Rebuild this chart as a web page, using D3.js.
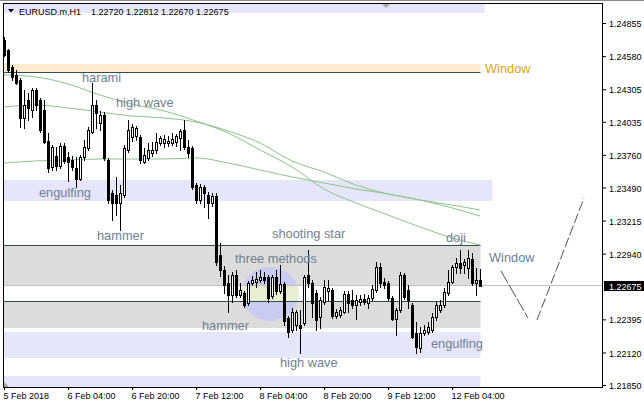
<!DOCTYPE html>
<html><head><meta charset="utf-8">
<script src="https://cdn.jsdelivr.net/npm/d3@7"></script>
<style>html,body{margin:0;padding:0;background:#fff;}svg{display:block;}</style>
</head><body><svg id="c" width="644" height="408"></svg>
<script>
// ---------- DATA ----------
const symbolTitle = "EURUSD.m,H1";
const lastOHLC = [1.22720, 1.22812, 1.22670, 1.22675];
const open = [1.24714,1.24631,1.24490,1.24423,1.24382,1.24067,1.24216,1.24133,1.24299,1.24216,
1.24133,1.23876,1.23660,1.23751,1.23668,1.23834,1.23743,1.23718,1.23652,1.23560,
1.23743,1.23818,1.23950,1.24174,1.24025,1.24091,1.23718,1.23444,1.23427,1.23361,
1.23427,1.23801,1.23909,1.23917,1.23909,1.23701,1.23735,1.23776,1.23801,1.23859,
1.23859,1.23859,1.23859,1.23867,1.23900,1.23967,1.23826,1.23818,1.23510,1.23386,
1.23494,1.23427,1.23361,1.23419,1.22929,1.22805,1.22697,1.22597,1.22763,1.22597,
1.22614,1.22531,1.22697,1.22705,1.22722,1.22747,1.22747,1.22589,1.22747,1.22631,
1.22689,1.22407,1.22307,1.22348,1.22348,1.22365,1.22763,1.22697,1.22614,1.22415,
1.22539,1.22631,1.22639,1.22423,1.22431,1.22456,1.22606,1.22556,1.22514,1.22539,
1.22564,1.22531,1.22573,1.22639,1.22830,1.22705,1.22697,1.22573,1.22398,1.22473,
1.22763,1.22639,1.22514,1.22282,1.22158,1.22282,1.22290,1.22307,1.22415,1.22473,
1.22514,1.22614,1.22705,1.22830,1.22863,1.22846,1.22821,1.22896,1.22697,1.22720];
const high = [1.24739,1.24639,1.24506,1.24465,1.24399,1.24299,1.24274,1.24316,1.24316,1.24233,
1.24216,1.23942,1.23842,1.23826,1.23859,1.23859,1.23784,1.23751,1.23743,1.23759,
1.23884,1.23992,1.24357,1.24216,1.24125,1.24116,1.23735,1.23469,1.23577,1.23510,
1.23842,1.24050,1.24017,1.24000,1.23925,1.23818,1.23859,1.23867,1.23942,1.23917,
1.23925,1.23917,1.23942,1.23934,1.23975,1.24050,1.23884,1.23834,1.23527,1.23519,
1.23510,1.23452,1.23444,1.23444,1.23029,1.22838,1.22763,1.22788,1.22805,1.22697,
1.22631,1.22714,1.22755,1.22788,1.22805,1.22788,1.22763,1.22763,1.22805,1.22846,
1.22705,1.22423,1.22490,1.22473,1.22473,1.22763,1.22971,1.22722,1.22639,1.22581,
1.22722,1.22722,1.22656,1.22481,1.22498,1.22631,1.22631,1.22639,1.22597,1.22597,
1.22606,1.22597,1.22680,1.22871,1.22863,1.22738,1.22714,1.22589,1.22490,1.22788,
1.22780,1.22680,1.22531,1.22373,1.22332,1.22348,1.22373,1.22448,1.22539,1.22556,
1.22656,1.22805,1.22846,1.22904,1.22971,1.22896,1.22971,1.22946,1.22821,1.22812];
const low = [1.24581,1.24448,1.24382,1.24349,1.23992,1.23984,1.24050,1.24075,1.24133,1.23950,
1.23859,1.23618,1.23635,1.23635,1.23652,1.23693,1.23544,1.23635,1.23494,1.23552,
1.23718,1.23801,1.23942,1.23984,1.23967,1.23718,1.23361,1.23220,1.23261,1.23137,
1.23411,1.23784,1.23876,1.23884,1.23693,1.23693,1.23718,1.23751,1.23776,1.23842,
1.23826,1.23834,1.23842,1.23834,1.23801,1.23809,1.23743,1.23477,1.23361,1.23361,
1.23328,1.23237,1.23336,1.22846,1.22755,1.22614,1.22456,1.22539,1.22581,1.22581,
1.22498,1.22514,1.22680,1.22664,1.22705,1.22697,1.22539,1.22573,1.22606,1.22614,
1.22348,1.22249,1.22290,1.22307,1.22116,1.22348,1.22664,1.22415,1.22307,1.22324,
1.22523,1.22556,1.22407,1.22407,1.22415,1.22448,1.22456,1.22490,1.22398,1.22514,
1.22523,1.22490,1.22556,1.22622,1.22664,1.22656,1.22556,1.22390,1.22265,1.22456,
1.22564,1.22490,1.22241,1.22116,1.22124,1.22265,1.22274,1.22290,1.22390,1.22456,
1.22498,1.22597,1.22697,1.22780,1.22780,1.22780,1.22738,1.22680,1.22597,1.22670];
const close = [1.24589,1.24465,1.24407,1.24357,1.24067,1.24174,1.24150,1.24299,1.24174,1.23967,
1.23867,1.23652,1.23826,1.23668,1.23834,1.23710,1.23701,1.23660,1.23560,1.23743,
1.23826,1.23967,1.24174,1.24108,1.24091,1.23735,1.23386,1.23361,1.23361,1.23444,
1.23818,1.23967,1.23992,1.23984,1.23718,1.23759,1.23801,1.23801,1.23867,1.23900,
1.23892,1.23876,1.23892,1.23917,1.23959,1.23826,1.23776,1.23494,1.23386,1.23494,
1.23444,1.23361,1.23419,1.22871,1.22805,1.22680,1.22597,1.22763,1.22597,1.22639,
1.22514,1.22697,1.22722,1.22730,1.22747,1.22722,1.22573,1.22747,1.22631,1.22689,
1.22382,1.22290,1.22456,1.22456,1.22324,1.22747,1.22697,1.22531,1.22390,1.22556,
1.22664,1.22656,1.22423,1.22456,1.22473,1.22606,1.22531,1.22514,1.22556,1.22564,
1.22539,1.22573,1.22647,1.22830,1.22697,1.22680,1.22573,1.22398,1.22473,1.22763,
1.22581,1.22556,1.22249,1.22166,1.22282,1.22307,1.22332,1.22415,1.22514,1.22514,
1.22622,1.22705,1.22830,1.22863,1.22821,1.22871,1.22904,1.22697,1.22722,1.22675];

// moving averages (sampled at bar indices)
const maIdx  = [0,8,16,24,32,40,48,56,64,72,80,88,96,104,112,119];
const maFast = [1.24424,1.24407,1.24349,1.24257,1.24183,1.24125,1.24042,1.23942,1.23801,1.23660,1.23477,1.23361,1.23261,1.23162,1.23071,1.23012];
const maMid  = [1.24158,1.24174,1.24150,1.24116,1.24083,1.24067,1.24033,1.23959,1.23859,1.23710,1.23618,1.23510,1.23436,1.23386,1.23320,1.23253];
const maSlow = [1.23693,1.23710,1.23718,1.23726,1.23726,1.23726,1.23735,1.23693,1.23635,1.23577,1.23527,1.23477,1.23436,1.23386,1.23344,1.23303];

// axis ticks
const yTicks = [1.24855,1.24580,1.24305,1.24035,1.23760,1.23490,1.23215,1.22940,1.22395,1.22120,1.21850];
const xTickIdx = [0,16,32,48,64,80,96,112];
const xTickLabels = ["5 Feb 2018","6 Feb 04:00","6 Feb 20:00","7 Feb 12:00","8 Feb 04:00","8 Feb 20:00","9 Feb 12:00","12 Feb 04:00"];

// zones: price top / bottom, ending bar, kind
const zoneTop    = [1.25100,1.24515,1.23552,1.23012,1.22548,1.22290,1.21925];
const zoneBottom = [1.24938,1.24448,1.23380,1.22680,1.22324,1.22077,1.21700];
const zoneEnd    = [120,119,122,119,119,119,119];
const zoneKind   = ["lav","peach","lav","gray","gray","lav","lav"];
// horizontal lines
const hLines = [1.24448,1.23012,1.22548];
const hLineEnd = 119;
// ellipse
const ellipseC = [66.5, 1.22606]; const ellipseRBars = 7.1; const ellipseRPrice = 0.00224;
// projected "Window" path
const proj1 = [[124.25,1.22796],[131,1.22406]];
const proj2 = [[133.25,1.22390],[145,1.23402]];
// pattern labels: text, bar, price, kind
const labels = [
 ["harami",19.5,1.24366,"n"],["high wave",28,1.24154,"n"],["engulfing",8.75,1.23407,"n"],
 ["hammer",23.25,1.23050,"n"],["shooting star",67,1.23071,"n"],["three methods",57.75,1.22863,"n"],
 ["hammer",49.5,1.22307,"n"],["high wave",69,1.22000,"n"],["doji",110.5,1.23037,"n"],
 ["Window",121.25,1.22871,"n"],["engulfing",106.75,1.22153,"n"],["Window",120.25,1.24444,"g"]];

// ---------- DRAW ----------
const svg = d3.select('#c');
const FONT = "Liberation Sans, Arial, sans-serif";
const x = d3.scaleLinear().domain([0,119]).range([4,480]);
const y = d3.scaleLinear().domain([1.21850,1.24855]).range([385,23]);
const zoneColor = {lav:"#e6e6fa", peach:"#ffebcd", gray:"#dcdcdc"};

svg.append('rect').attr('width',644).attr('height',408).attr('fill','#fff');
svg.append('line').attr('x1',0).attr('x2',644).attr('y1',0.5).attr('y2',0.5).attr('stroke','#8a8a8a');

const defs = svg.append('defs');
defs.append('clipPath').attr('id','plot').append('rect').attr('x',3).attr('y',3).attr('width',600).attr('height',384);
defs.append('clipPath').attr('id','strip').append('rect').attr('x',0)
  .attr('y',Math.round(y(zoneBottom[3]))).attr('width',644)
  .attr('height',Math.round(y(hLines[2]))-Math.round(y(zoneBottom[3])));

const P = svg.append('g').attr('clip-path','url(#plot)');

// zones
zoneTop.forEach((t,k)=>{
  const y0 = Math.round(y(t)), y1 = Math.round(y(zoneBottom[k]));
  P.append('rect').attr('x',0).attr('y',y0).attr('width',x(zoneEnd[k])+0.5).attr('height',y1-y0)
   .attr('fill',zoneColor[zoneKind[k]]);
});
// ellipse
const ecx = x(ellipseC[0]), ecy = y(ellipseC[1]);
const erx = x(ellipseC[0]+ellipseRBars)-ecx, ery = y(ellipseC[1]-ellipseRPrice)-ecy;
P.append('ellipse').attr('cx',ecx).attr('cy',ecy).attr('rx',erx).attr('ry',ery).attr('fill','#c9cbf1');
P.append('g').attr('clip-path','url(#strip)').append('ellipse').attr('cx',ecx).attr('cy',ecy).attr('rx',erx).attr('ry',ery).attr('fill','#e8eed2');

// horizontal lines
hLines.forEach(v=>{
  const yy = Math.round(y(v))+0.5;
  P.append('line').attr('x1',0).attr('x2',x(hLineEnd)+0.5).attr('y1',yy).attr('y2',yy).attr('stroke','#2f4f4f');
});
// current price line
const yCur = Math.floor(y(lastOHLC[3]))+0.5;
P.append('line').attr('x1',0).attr('x2',603).attr('y1',yCur).attr('y2',yCur).attr('stroke','#c0c0c0');

// moving averages
const maLine = d3.line().x((d,k)=>x(maIdx[k])).y(d=>y(d)).curve(d3.curveMonotoneX);
[maFast,maMid,maSlow].forEach(m=>{
  P.append('path').attr('d',maLine(m)).attr('fill','none').attr('stroke','#8cc48c').attr('stroke-width',1);
});

// candles
const C = P.append('g').attr('shape-rendering','crispEdges');
open.forEach((o,i)=>{
  const cx = Math.round(x(i));
  const hi = Math.round(y(high[i])), lo = Math.round(y(low[i]));
  C.append('line').attr('x1',cx+0.5).attr('x2',cx+0.5).attr('y1',hi).attr('y2',lo+1).attr('stroke','#000');
  const yo = Math.round(y(o)), yc = Math.round(y(close[i]));
  const t = Math.min(yo,yc), b = Math.max(yo,yc);
  if (close[i] >= o) {
    C.append('rect').attr('x',cx-0.5).attr('y',t+0.5).attr('width',2).attr('height',Math.max(b-t,1))
     .attr('fill','#fff').attr('stroke','#000');
  } else {
    C.append('rect').attr('x',cx-1).attr('y',t).attr('width',3).attr('height',Math.max(b-t+1,1)).attr('fill','#000');
  }
});

// projected window path
const pl = d3.line().x(d=>x(d[0])).y(d=>y(d[1]));
P.append('path').attr('d',pl(proj1)).attr('fill','none').attr('stroke','#505050').attr('stroke-dasharray','14,2');
P.append('path').attr('d',pl(proj2)).attr('fill','none').attr('stroke','#505050').attr('stroke-dasharray','10,3');

// labels
labels.forEach(l=>{
  P.append('text').attr('x',x(l[1])).attr('y',y(l[2])).text(l[0])
   .attr('font-family',FONT).attr('font-size', '12.8px')
   .attr('fill', l[3]==='g' ? '#daa520' : '#708090');
});

// frame
svg.append('rect').attr('x',3.5).attr('y',3.5).attr('width',599).attr('height',384)
  .attr('fill','none').attr('stroke','#000').attr('shape-rendering','crispEdges');

// chart-shift markers
svg.append('path').attr('d','M382,4L390,4L386,8Z').attr('fill','#a8a8a8');
svg.append('path').attr('d','M4,382L4,387L9,387Z').attr('fill','#a0a0a0');

// y axis
const gy = svg.append('g').attr('transform','translate(603,0)')
  .call(d3.axisRight(y).tickValues(yTicks).tickSize(3).tickSizeOuter(0).tickFormat(d3.format('.5f')));
gy.select('.domain').remove();
gy.selectAll('text').attr('font-family',FONT).attr('font-size','9px').attr('fill','#000').attr('dy','0.4em');
gy.selectAll('line').attr('stroke','#000');

// x axis
const gx = svg.append('g').attr('transform','translate(0,387)')
  .call(d3.axisBottom(x).tickValues(xTickIdx).tickSize(3).tickSizeOuter(0).tickFormat((d,k)=>xTickLabels[k]));
gx.select('.domain').remove();
gx.selectAll('text').attr('font-family',FONT).attr('font-size','9px').attr('fill','#000')
  .attr('text-anchor','start').attr('x',-1).attr('y',6);
gx.selectAll('line').attr('stroke','#000');

// current price box
const yc0 = y(lastOHLC[3]);
svg.append('rect').attr('x',604).attr('y',Math.round(yc0)-5).attr('width',40).attr('height',10).attr('fill','#000');
svg.append('text').attr('x',609).attr('y',Math.round(yc0)+3.5).text(d3.format('.5f')(lastOHLC[3]))
  .attr('font-family',FONT).attr('font-size','9px').attr('fill','#fff');

// title
svg.append('path').attr('d','M8,9L14,9L11,12.5Z').attr('fill','#000');
svg.append('text').attr('x',19).attr('y',15).text(symbolTitle).attr('font-family',FONT).attr('font-size','9px').attr('fill','#000');
svg.append('text').attr('x',91).attr('y',15).text(lastOHLC.map(d3.format('.5f')).join(' '))
  .attr('font-family',FONT).attr('font-size','9px').attr('fill','#000');
</script></body></html>
